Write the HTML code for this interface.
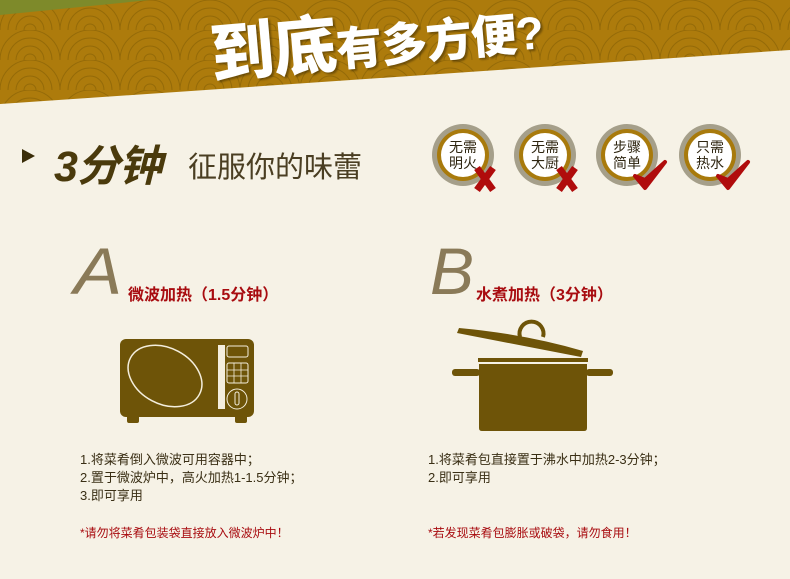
<!DOCTYPE html>
<html><head><meta charset="utf-8"><style>
*{margin:0;padding:0;box-sizing:border-box}
body{width:790px;height:579px;overflow:hidden;background:#f6f2e6;font-family:"Liberation Sans","Noto Sans CJK SC",sans-serif;position:relative}
.abs{position:absolute}
.t{color:#3a2f15;font-size:13px;line-height:18px}
.red{color:#a80c10}
</style></head><body>
<svg class="abs" style="left:0;top:0" width="790" height="110">
<defs><pattern id="waves" width="60" height="30" patternUnits="userSpaceOnUse">
<rect width="60" height="30" fill="#ad7b0c"/>
<path d="M0 30 A30 30 0 0 1 60 30 M8 30 A22 22 0 0 1 52 30 M16 30 A14 14 0 0 1 44 30 M24 30 A6 6 0 0 1 36 30" fill="none" stroke="#946a08" stroke-width="1"/>
</pattern></defs>
<polygon points="0,0 790,0 790,50 0,104" fill="url(#waves)"/>
<polygon points="0,0 150,0 0,15" fill="#7e8a2a"/>
</svg>
<div class="abs" style="left:214px;top:4px;color:#fff;font-weight:900;transform:rotate(-5deg);transform-origin:left bottom;white-space:nowrap;text-shadow:2px 2px 2px rgba(0,0,0,.35);letter-spacing:-1px"><span style="font-size:64px">到底</span><span style="font-size:46px">有多方便?</span></div>

<div class="abs" style="left:22px;top:149px;width:0;height:0;border-top:7px solid transparent;border-bottom:7px solid transparent;border-left:13px solid #3a2d08"></div>
<div class="abs" style="left:54px;top:132px;font-size:43px;font-weight:bold;font-style:italic;color:#4a3a0c;white-space:nowrap;letter-spacing:-1px">3分钟</div>
<div class="abs" style="left:188px;top:144px;font-size:29px;color:#4a3e22;white-space:nowrap">征服你的味蕾</div>

<svg class="abs" style="left:425px;top:118px" width="340" height="80">
<g font-family="Liberation Sans, Noto Sans CJK SC, sans-serif" font-size="14" fill="#2e2510" text-anchor="middle">
<g><circle cx="38" cy="37" r="31" fill="#a59f8a"/><circle cx="38" cy="37" r="26" fill="#a87a0c"/><circle cx="38" cy="37" r="22" fill="#fff"/><text x="38" y="34">无需</text><text x="38" y="50">明火</text><path d="M52 50 L68 72 M68 50 L52 72" stroke="#b00c0c" stroke-width="7"/></g>
<g><circle cx="120" cy="37" r="31" fill="#a59f8a"/><circle cx="120" cy="37" r="26" fill="#a87a0c"/><circle cx="120" cy="37" r="22" fill="#fff"/><text x="120" y="34">无需</text><text x="120" y="50">大厨</text><path d="M134 50 L150 72 M150 50 L134 72" stroke="#b00c0c" stroke-width="7"/></g>
<g><circle cx="202" cy="37" r="31" fill="#a59f8a"/><circle cx="202" cy="37" r="26" fill="#a87a0c"/><circle cx="202" cy="37" r="22" fill="#fff"/><text x="202" y="34">步骤</text><text x="202" y="50">简单</text><path d="M210 58 L220 70 L240 44 L220 62 Z" fill="#b00c0c" stroke="#b00c0c" stroke-width="4" stroke-linejoin="round"/></g>
<g><circle cx="285" cy="37" r="31" fill="#a59f8a"/><circle cx="285" cy="37" r="26" fill="#a87a0c"/><circle cx="285" cy="37" r="22" fill="#fff"/><text x="285" y="34">只需</text><text x="285" y="50">热水</text><path d="M293 58 L303 70 L323 44 L303 62 Z" fill="#b00c0c" stroke="#b00c0c" stroke-width="4" stroke-linejoin="round"/></g>
</g></svg>

<div class="abs" style="left:76px;top:238px;font-size:66px;font-style:italic;color:#8a7a58;line-height:66px;transform:scaleX(1.1)">A</div>
<div class="abs red" style="left:128px;top:281px;font-size:16px;font-weight:bold;white-space:nowrap">微波加热（1.5分钟）</div>
<div class="abs" style="left:430px;top:238px;font-size:66px;font-style:italic;color:#8a7a58;line-height:66px">B</div>
<div class="abs red" style="left:476px;top:281px;font-size:16px;font-weight:bold;white-space:nowrap">水煮加热（3分钟）</div>

<svg class="abs" style="left:115px;top:335px" width="145" height="95">
<rect x="5" y="4" width="134" height="78" rx="6" fill="#6e5408"/>
<rect x="12" y="78" width="12" height="10" rx="2" fill="#6e5408"/><rect x="120" y="78" width="12" height="10" rx="2" fill="#6e5408"/>
<ellipse cx="50" cy="41" rx="39" ry="28" transform="rotate(28 50 41)" fill="none" stroke="#f4eedd" stroke-width="1.5"/>
<rect x="103" y="10" width="7" height="64" fill="#f4eedd"/>
<rect x="112" y="11" width="21" height="11" rx="2" fill="none" stroke="#f4eedd"/>
<rect x="112" y="28" width="21" height="20" rx="2" fill="none" stroke="#f4eedd"/>
<path d="M112 35H133M112 41H133M119 28V48M126 28V48" stroke="#f4eedd" stroke-width=".8"/>
<circle cx="122" cy="64" r="10" fill="none" stroke="#f4eedd"/><rect x="120" y="57" width="4" height="13" rx="2" fill="none" stroke="#f4eedd"/>
</svg>
<svg class="abs" style="left:445px;top:318px" width="175" height="118">
<path d="M75 19 A12 12 0 1 1 98 19" fill="none" stroke="#6e5408" stroke-width="4"/>
<path d="M12 15 L14 10 Q80 16 138 33 L136 39 Z" fill="#6e5408"/>
<rect x="33" y="40" width="110" height="4" fill="#6e5408"/>
<path d="M34 46H142V110Q142 113 139 113H37Q34 113 34 110Z" fill="#6e5408"/>
<rect x="7" y="51" width="28" height="7" rx="3" fill="#6e5408"/><rect x="141" y="51" width="27" height="7" rx="3" fill="#6e5408"/>
</svg>

<div class="abs t" style="left:80px;top:451px">1.将菜肴倒入微波可用容器中；<br>2.置于微波炉中，高火加热1-1.5分钟；<br>3.即可享用</div>
<div class="abs t" style="left:428px;top:451px">1.将菜肴包直接置于沸水中加热2-3分钟；<br>2.即可享用</div>
<div class="abs red" style="left:80px;top:524px;font-size:12px">*请勿将菜肴包装袋直接放入微波炉中！</div>
<div class="abs red" style="left:428px;top:524px;font-size:12px">*若发现菜肴包膨胀或破袋，请勿食用！</div>
</body></html>
